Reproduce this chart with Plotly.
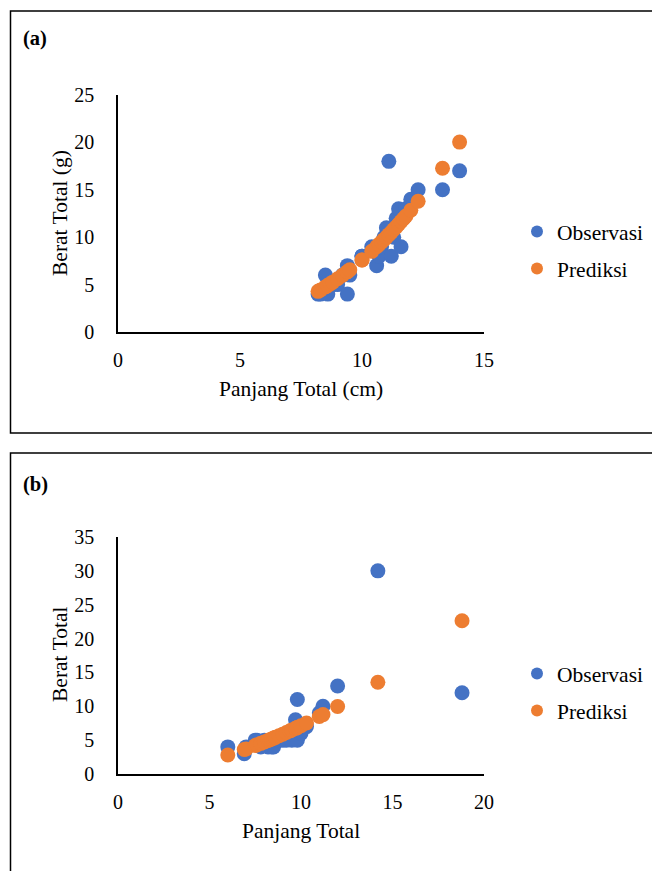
import plotly.graph_objects as go

# ---------------- Panel (a) data ----------------
a_panjang = [8.2, 8.3, 8.5, 8.6, 8.7, 8.8, 9.0, 9.2, 9.4, 9.4, 9.5, 10.0, 10.0, 10.4, 10.6,
             10.7, 10.8, 10.9, 11.0, 11.1, 11.2, 11.3, 11.4, 11.5, 11.6, 11.7, 11.8, 12.0,
             12.3, 13.3, 14.0]
a_observasi = [4, 4, 6, 4, 5, 5, 5, 6, 7, 4, 6, 8, 8, 9, 7,
               8, 9, 10, 11, 18, 8, 10, 12, 13, 9, 12, 13, 14,
               15, 15, 17]
a_prediksi = [4.29, 4.44, 4.76, 4.92, 5.09, 5.26, 5.61, 5.98, 6.36, 6.36, 6.56, 7.60, 7.60, 8.51, 8.99,
              9.24, 9.49, 9.74, 10.00, 10.27, 10.53, 10.81, 11.08, 11.37, 11.65, 11.94, 12.24, 12.85,
              13.80, 17.28, 20.03]

# ---------------- Panel (b) data ----------------
b_panjang = [6.0, 6.9, 7.0, 7.5, 7.6, 7.8, 8.0, 8.2, 8.3, 8.4, 8.5, 8.6, 8.8, 9.0, 9.2,
             9.4, 9.5, 9.7, 9.8, 9.8, 10.0, 10.3, 11.0, 11.2, 12.0, 14.2, 18.8]
b_observasi = [4, 3, 4, 5, 5, 4, 5, 4, 5, 4, 4, 5, 5, 5, 5,
               6, 5, 8, 11, 5, 6, 7, 9, 10, 13, 30, 12]
b_prediksi = [2.80, 3.61, 3.71, 4.21, 4.32, 4.53, 4.74, 4.96, 5.07, 5.18, 5.30, 5.41, 5.64, 5.88, 6.12,
              6.37, 6.49, 6.74, 6.87, 6.87, 7.13, 7.53, 8.49, 8.77, 9.96, 13.55, 22.64]

a_xticks = [0, 5, 10, 15]
a_yticks = [0, 5, 10, 15, 20, 25]
b_xticks = [0, 5, 10, 15, 20]
b_yticks = [0, 5, 10, 15, 20, 25, 30, 35]

BLUE = "#4472C4"
ORANGE = "#ED7D31"
FONT = "Liberation Serif, Times New Roman, serif"
W, H = 652, 871


def px(x):
    return x / W


def py(y):
    return 1 - y / H


fig = go.Figure()

fig.add_trace(go.Scatter(x=a_panjang, y=a_observasi, mode="markers", name="Observasi",
                         marker=dict(color=BLUE, size=15), xaxis="x", yaxis="y",
                         legend="legend", legendgroup="a1"))
fig.add_trace(go.Scatter(x=a_panjang, y=a_prediksi, mode="markers", name="Prediksi",
                         marker=dict(color=ORANGE, size=15), xaxis="x", yaxis="y",
                         legend="legend", legendgroup="a2"))
fig.add_trace(go.Scatter(x=b_panjang, y=b_observasi, mode="markers", name="Observasi",
                         marker=dict(color=BLUE, size=15), xaxis="x2", yaxis="y2",
                         legend="legend2", legendgroup="b1"))
fig.add_trace(go.Scatter(x=b_panjang, y=b_prediksi, mode="markers", name="Prediksi",
                         marker=dict(color=ORANGE, size=15), xaxis="x2", yaxis="y2",
                         legend="legend2", legendgroup="b2"))

axis_common = dict(showgrid=False, zeroline=False, showline=True, linecolor="black",
                   linewidth=1.5, ticks="", automargin=False,
                   tickfont=dict(family=FONT, size=20, color="black"))

xdom = [px(118), px(484)]
leg_common = dict(xanchor="left", yanchor="middle",
                  font=dict(family=FONT, size=21.5, color="black"), itemsizing="constant",
                  itemwidth=30, traceorder="grouped", tracegroupgap=6,
                  bgcolor="rgba(0,0,0,0)", borderwidth=0)
fig.update_layout(
    width=W, height=H,
    margin=dict(l=0, r=0, t=0, b=0, pad=0, autoexpand=False),
    paper_bgcolor="white", plot_bgcolor="white",
    font=dict(family=FONT, size=20, color="black"),
    xaxis=dict(domain=xdom, range=[0, 15], tickvals=a_xticks, anchor="y",
               ticklabelstandoff=9, **axis_common),
    yaxis=dict(domain=[py(332), py(95)], range=[0, 25], tickvals=a_yticks, anchor="x",
               ticklabelstandoff=18, **axis_common),
    xaxis2=dict(domain=xdom, range=[0, 20], tickvals=b_xticks, anchor="y2",
                ticklabelstandoff=9, **axis_common),
    yaxis2=dict(domain=[py(774), py(537)], range=[0, 35], tickvals=b_yticks, anchor="x2",
                ticklabelstandoff=18, **axis_common),
    legend=dict(x=px(517), y=py(250), **leg_common),
    legend2=dict(x=px(517), y=py(692), **leg_common),
    showlegend=True,
)

# panel borders
fig.add_shape(type="rect", xref="paper", yref="paper", x0=px(10.5), x1=1.05, y0=py(433), y1=py(11),
              line=dict(color="black", width=1.5), fillcolor="rgba(0,0,0,0)", layer="below")
fig.add_shape(type="rect", xref="paper", yref="paper", x0=px(10.5), x1=1.05, y0=-0.05, y1=py(453),
              line=dict(color="black", width=1.5), fillcolor="rgba(0,0,0,0)", layer="below")

ann_font = dict(family=FONT, size=21.5, color="black")
fig.add_annotation(text="<b>(a)</b>", xref="paper", yref="paper", x=px(21), y=py(38),
                   xanchor="left", yanchor="middle", showarrow=False,
                   font=dict(family=FONT, size=20.5, color="black"))
fig.add_annotation(text="<b>(b)</b>", xref="paper", yref="paper", x=px(21), y=py(484),
                   xanchor="left", yanchor="middle", showarrow=False,
                   font=dict(family=FONT, size=20.5, color="black"))
fig.add_annotation(text="Berat Total (g)", xref="paper", yref="paper", x=px(60), y=py(213),
                   xanchor="center", yanchor="middle",
                   textangle=-90, showarrow=False, font=ann_font)
fig.add_annotation(text="Panjang Total (cm)", xref="paper", yref="paper", x=px(301), y=py(389),
                   xanchor="center", yanchor="middle",
                   showarrow=False, font=ann_font)
fig.add_annotation(text="Berat Total", xref="paper", yref="paper", x=px(60), y=py(655),
                   xanchor="center", yanchor="middle",
                   textangle=-90, showarrow=False, font=ann_font)
fig.add_annotation(text="Panjang Total", xref="paper", yref="paper", x=px(301), y=py(831),
                   xanchor="center", yanchor="middle",
                   showarrow=False, font=ann_font)

fig.write_html("out.html")
